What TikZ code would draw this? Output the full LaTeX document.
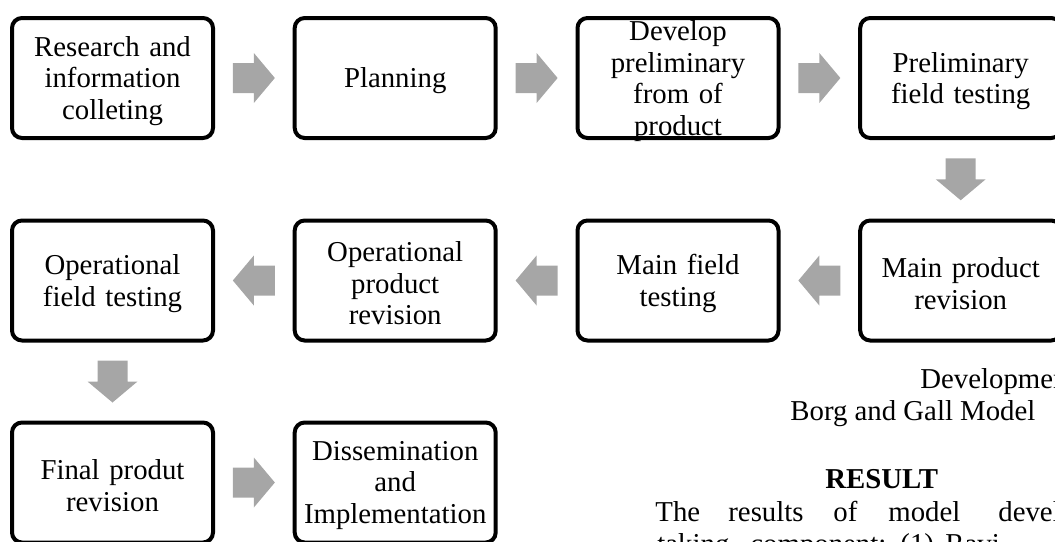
\documentclass[tikz,border=0pt]{standalone}
\usepackage{fontspec}
\setmainfont{Liberation Serif}
\usetikzlibrary{calc}
\definecolor{arrowgray}{RGB}{166,166,166}
\begin{document}
\begin{tikzpicture}[x=0.5pt,y=0.5pt]
            \tikzstyle{every node}+=[inner sep=0pt]
            \tikzstyle{stage}=[draw=black, line width=2pt, rounded corners=5pt, minimum width=100.5pt, minimum height=60pt]
            \tikzstyle{stagetext}=[text width=96pt, align=center, font=\fontsize{14.4}{15.8}\selectfont]
            \tikzstyle{plain}=[anchor=base west, font=\fontsize{14.4}{15.8}\selectfont]
            \tikzset{blockarrow/.pic={\fill [arrowgray] (-21,-15) -- (0,-15) -- (0,-25) -- (21,0) -- (0,25) -- (0,15) -- (-21,15) -- cycle;}}
            \clip (0,0) rectangle (1055,-541);
            \useasboundingbox (0,0) rectangle (1055,-541);
            % boxes
            \node [stage] (research) at (112.5,-78) {};
            \node [stage] (planning) at (395.2,-78) {};
            \node [stage] (prelimform) at (678,-78) {};
            \node [stage] (prelimtest) at (960.7,-78) {};
            \node [stage] (mainrev) at (960.7,-280.5) {};
            \node [stage] (maintest) at (678,-280.5) {};
            \node [stage] (oprev) at (395.2,-280.5) {};
            \node [stage] (optest) at (112.5,-280.5) {};
            \node [stage] (finalrev) at (112.5,-482.5) {};
            \node [stage] (dissem) at (395.2,-482.5) {};
            % texts
            \node [stagetext] (researcht) at ([yshift=-1.5pt]research.center) {Research and\\information\\colleting};
            \node [stagetext] (planningt) at ([yshift=-1.5pt]planning.center) {Planning};
            \node [stagetext] (prelimformt) at ([yshift=-1.5pt]prelimform.center) {Develop\\preliminary\\from of\\product};
            \node [stagetext] (prelimtestt) at ([yshift=-1.5pt]prelimtest.center) {Preliminary\\field testing};
            \node [stagetext] (mainrevt) at ([yshift=-1.5pt]mainrev.center) {Main product\\revision};
            \node [stagetext] (maintestt) at ([yshift=-1.5pt]maintest.center) {Main field\\testing};
            \node [stagetext] (oprevt) at ([yshift=-1.5pt]oprev.center) {Operational\\product\\revision};
            \node [stagetext] (optestt) at ([yshift=-1.5pt]optest.center) {Operational\\field testing};
            \node [stagetext] (finalrevt) at ([yshift=-1.5pt]finalrev.center) {Final produt\\revision};
            \node [stagetext] (dissemt) at ([yshift=-1.5pt]dissem.center) {Dissemination\\and\\Implementation};
            % arrows
            \pic at ($(research.east)!0.5!(planning.west)$) {blockarrow};
            \pic at ($(planning.east)!0.5!(prelimform.west)$) {blockarrow};
            \pic at ($(prelimform.east)!0.5!(prelimtest.west)$) {blockarrow};
            \pic [rotate=-90] at ($(prelimtest.south)!0.5!(mainrev.north)$) {blockarrow};
            \pic [rotate=180] at ($(mainrev.west)!0.5!(maintest.east)$) {blockarrow};
            \pic [rotate=180] at ($(maintest.west)!0.5!(oprev.east)$) {blockarrow};
            \pic [rotate=180] at ($(oprev.west)!0.5!(optest.east)$) {blockarrow};
            \pic [rotate=-90] at ($(optest.south)!0.5!(finalrev.north)$) {blockarrow};
            \pic at ($(finalrev.east)!0.5!(dissem.west)$) {blockarrow};
            % page text
            \node [plain] (cap1) at (920,-388) {Development};
            \node [plain] (cap2) at (790,-420) {Borg and Gall Model};
            \node [plain, font=\fontsize{14.4}{15.8}\selectfont\bfseries] (result) at (825,-488) {RESULT};
            \node [plain] (w1) at (655,-521.7) {The};
            \node [plain] (w2) at (728,-521.7) {results};
            \node [plain] (w3) at (833,-521.7) {of};
            \node [plain] (w4) at (888,-521.7) {model};
            \node [plain] (w5) at (998,-521.7) {development};
            \node [plain] (w6) at (657,-553) {taking};
            \node [plain] (w7) at (750,-553) {component:};
            \node [plain] (w8) at (900,-553) {(1)};
            \node [plain] (w9) at (945,-553) {Ravi};
        \end{tikzpicture}
\end{document}
